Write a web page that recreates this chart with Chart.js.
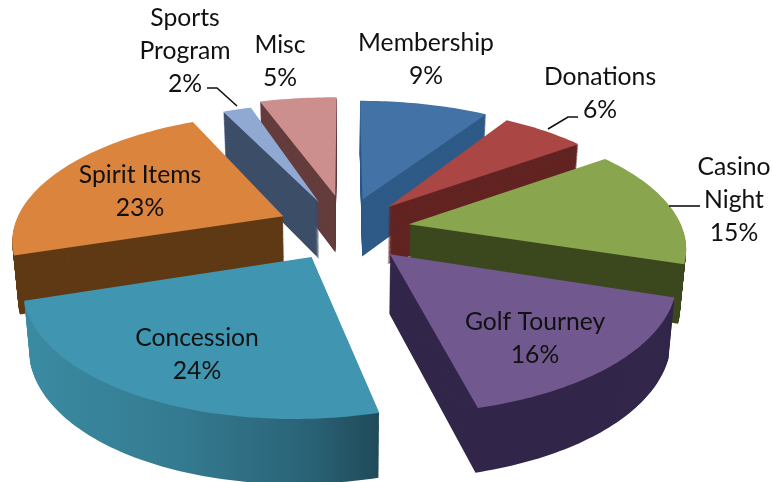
<!DOCTYPE html>
<html><head><meta charset="utf-8">
<style>html,body{margin:0;padding:0;background:#fff}canvas{display:block}</style>
<script src="https://cdn.jsdelivr.net/npm/chart.js@4"></script>
</head><body><canvas id="c" width="772" height="482"></canvas>
<script>
const categories = ["Membership","Donations","Casino Night","Golf Tourney","Concession","Spirit Items","Sports Program","Misc"];
const shares = [9,6,15,16,24,23,2,5];
const topColors = ["#4272a6","#aa4643","#89a54e","#71588f","#4096b0","#db843d","#8fa9d3","#cc8f8e"];
const wallColors = ["#2e5a88","#622422","#3c481e","#32264a",null,"#5f3a15","#3c4d68","#643c3c"];
const labelLines = [["Membership"],["Donations"],["Casino","Night"],["Golf Tourney"],["Concession"],["Spirit Items"],["Sports","Program"],["Misc"]];
const labelAnchors = [[426,43],[600,77],[734,167],[535,322],[197,338],[140,175],[185,18],[280,45]];
const leaders = [[[578,117],[568,117],[548,129]],[[700,206],[669,206]],[[207,88],[217,88],[237,106]]];
const drawOrder = [7,6,0,1,2,5,3,4];
const explode = 0.24;
const view = {x0:345,y0:229,A:271,B:124,p:0.17,depth:58,shrink:0.018};
// per-slice view tweaks: dx, dy, radius scale, shear, x scale
const nudges = [[0,-2,1,0,1.025],[0,-1,1,0,1],[0,0,1,-0.012,1.01],[-1,3,1,-0.018,1.01],[-1,1,1,-0.03,1],[-3,-1,1,0,0.995],[-3,0,1,0,1.02],[0,-5,1,0,1.1]];

function projectingContext(real, arc, i){
  const mid=(arc.startAngle+arc.endAngle)/2, R=arc.outerRadius;
  const ex=Math.cos(mid)*explode, ey=Math.sin(mid)*explode;
  const [nx,ny,ns,shear,xs]=nudges[i];
  let t=0;
  const map=(px,py)=>{
    const lu=(px-arc.x)/R*ns, lv=(py-arc.y)/R*ns;
    const u=lu*xs+shear*lv+ex, v=lv+ey;
    const w=1-view.p*v;
    const sx=view.A*u/w+nx, sy=view.B*v/w+ny+t*view.depth/Math.sqrt(w);
    return [view.x0+sx*(1-view.shrink*t), view.y0+sy];
  };
  let started=false;
  const add=(p)=>{ const q=map(p[0],p[1]); if(!started){real.moveTo(q[0],q[1]);started=true;} else real.lineTo(q[0],q[1]); };
  return {
    setDepth(d){t=d;},
    save(){}, restore(){}, translate(){}, clip(){}, setLineDash(){},
    beginPath(){real.beginPath();started=false;},
    moveTo(x,y){add([x,y]);}, lineTo(x,y){add([x,y]);},
    closePath(){real.closePath();},
    arc(x,y,r,a0,a1,ccw){
      let d=a1-a0; if(ccw&&d>0)d-=2*Math.PI; if(!ccw&&d<0)d+=2*Math.PI;
      const n=Math.max(2,Math.ceil(Math.abs(d)/0.02));
      for(let k=0;k<=n;k++){const a=a0+d*k/n; add([x+r*Math.cos(a),y+r*Math.sin(a)]);}
    },
    fill(){real.fillStyle=this.fillStyle;real.fill();},
    stroke(){}
  };
}
function drawSlice(real,arc,i,t,color){
  const saved=arc.options;
  arc.options=Object.assign({},saved,{backgroundColor:color,borderWidth:0,offset:0,spacing:0});
  const fake=projectingContext(real,arc,i); fake.setDepth(t);
  arc.draw(fake);
  arc.options=saved;
}
const pie3d={
  id:"pie3d",
  beforeDatasetsDraw(chart){
    const ctx=chart.ctx, arcs=chart.getDatasetMeta(0).data;
    const total=shares.reduce((a,b)=>a+b,0);
    ctx.save();
    ctx.fillStyle="#fff";ctx.fillRect(0,0,chart.width,chart.height);
    const grad=ctx.createLinearGradient(25,0,377,0);
    grad.addColorStop(0,"#3a8ba2");grad.addColorStop(0.45,"#347a90");grad.addColorStop(0.8,"#2a6377");grad.addColorStop(1,"#204b5b");
    for(const i of drawOrder){
      const wall=wallColors[i]||grad;
      for(let s=60;s>=1;s--) drawSlice(ctx,arcs[i],i,s/60,wall);
      drawSlice(ctx,arcs[i],i,0,topColors[i]);
    }
    ctx.restore();
    ctx.save();
    ctx.strokeStyle="#111";ctx.lineWidth=1.6;
    for(const l of leaders){ctx.beginPath();l.forEach((p,k)=>k?ctx.lineTo(p[0],p[1]):ctx.moveTo(p[0],p[1]));ctx.stroke();}
    ctx.fillStyle="#111";ctx.font="24.7px Lato, Carlito, sans-serif";ctx.textAlign="center";ctx.textBaseline="middle";
    categories.forEach((c,i)=>{
      const lines=[...labelLines[i],Math.round(shares[i]/total*100)+"%"];
      lines.forEach((s,k)=>ctx.fillText(s,labelAnchors[i][0],labelAnchors[i][1]+k*33));
    });
    ctx.restore();
    return false;
  }
};
new Chart(document.getElementById("c"),{
  type:"pie",
  data:{labels:categories,datasets:[{data:shares,backgroundColor:topColors,borderWidth:0}]},
  options:{responsive:false,animation:false,layout:{padding:0},plugins:{legend:{display:false},tooltip:{enabled:false}}},
  plugins:[pie3d]
});
</script></body></html>
